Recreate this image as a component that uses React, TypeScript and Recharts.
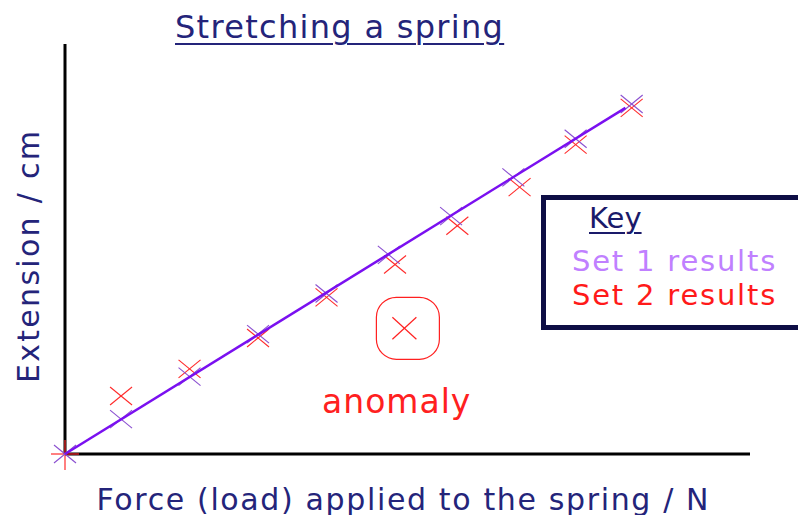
import React from "react";
import { ScatterChart, Scatter, XAxis, YAxis, Label } from "recharts";

// force (N) and extension (cm)
const set1Force = [0, 0.9, 2.0, 3.1, 4.2, 5.2, 6.2, 7.2, 8.2, 9.1];
const set1Ext = [0, 1.8, 4.0, 6.2, 8.3, 10.3, 12.3, 14.3, 16.3, 18.1];
const set2Force = [0, 0.9, 2.0, 3.1, 4.2, 5.3, 6.3, 7.3, 8.2, 9.1];
const set2Ext = [0, 3.0, 4.4, 6.0, 8.1, 9.8, 11.8, 13.8, 16.0, 17.9];
const anomalyForce = [5.45];
const anomalyExt = [6.5];
const fitForce = [0, 9.0];
const fitExt = [0, 17.9];

const zip = (xs: number[], ys: number[]) => xs.map((x, i) => ({ force: x, ext: ys[i] }));

const set1 = zip(set1Force, set1Ext);
const set2 = zip(set2Force, set2Ext);
const anomaly = zip(anomalyForce, anomalyExt);
const fit = zip(fitForce, fitExt);

const NAVY = "#24247a";
const FONT = "'DejaVu Sans', sans-serif";

const crossShape = (color: string, rx: number, ry: number, plusAtOrigin = false) => (props: any) => {
  const { cx, cy, index } = props;
  if (cx == null || cy == null) return <g />;
  if (plusAtOrigin && index === 0) {
    return (
      <g stroke={color} strokeWidth={1.2}>
        <line x1={cx - 14} y1={cy} x2={cx + 14} y2={cy} />
        <line x1={cx} y1={cy - 14} x2={cx} y2={cy + 16} />
      </g>
    );
  }
  return (
    <g stroke={color} strokeWidth={1.1}>
      <line x1={cx - rx} y1={cy - ry} x2={cx + rx} y2={cy + ry} />
      <line x1={cx - rx} y1={cy + ry} x2={cx + rx} y2={cy - ry} />
    </g>
  );
};

const AnomalyShape = (props: any) => {
  const { cx, cy } = props;
  if (cx == null || cy == null) return <g />;
  return (
    <g stroke="#ff2020" fill="none" strokeWidth={1.2}>
      <line x1={cx - 12} y1={cy - 11} x2={cx + 12} y2={cy + 11} />
      <line x1={cx - 12} y1={cy + 11} x2={cx + 12} y2={cy - 11} />
      <rect x={cx - 28} y={cy - 31} width={63} height={62} rx={20} />
    </g>
  );
};

const XLabel = (props: any) => {
  const { x, y, width } = props.viewBox;
  return (
    <text x={x + width / 2 - 5} y={y + 45} textAnchor="middle" dominantBaseline="central"
      fill={NAVY} fontSize={30} fontFamily={FONT} textLength={612} lengthAdjust="spacing">
      Force (load) applied to the spring / N
    </text>
  );
};

const YLabel = (props: any) => {
  const { y, height } = props.viewBox;
  const cx = 28;
  const cy = y + height / 2 + 8;
  return (
    <text x={cx} y={cy} transform={`rotate(-90, ${cx}, ${cy})`} textAnchor="middle" dominantBaseline="central"
      fill={NAVY} fontSize={30} fontFamily={FONT} textLength={252} lengthAdjust="spacing">
      Extension / cm
    </text>
  );
};

export default function App() {
  return (
    <div style={styles.page}>
      <ScatterChart width={798} height={515} margin={{ top: 44, right: 48, bottom: 60, left: 64 }}>
        <XAxis type="number" dataKey="force" domain={[0, 11]} height={1} tick={false} tickLine={false}
          axisLine={{ stroke: "#000", strokeWidth: 3 }}>
          <Label content={XLabel} />
        </XAxis>
        <YAxis type="number" dataKey="ext" domain={[0, 21.2]} width={1} tick={false} tickLine={false}
          axisLine={{ stroke: "#000", strokeWidth: 3 }}>
          <Label content={YLabel} />
        </YAxis>
        <Scatter name="Set 2 results" data={set2} shape={crossShape("#ff2a2a", 11, 9, true)} isAnimationActive={false} />
        <Scatter name="Set 1 results" data={set1} shape={crossShape("#8a4fd0", 11, 9)} isAnimationActive={false} />
        <Scatter data={fit} line={{ stroke: "#7a10f0", strokeWidth: 2.5 }} shape={() => <g />} isAnimationActive={false} />
        <Scatter name="anomaly" data={anomaly} shape={AnomalyShape} isAnimationActive={false} />
      </ScatterChart>

      <div style={styles.title}>Stretching a spring</div>
      <div style={styles.anomaly}>anomaly</div>
      <div style={styles.keyBox}>
        <div style={styles.keyTitle}>Key</div>
        <div style={{ ...styles.keyItem, top: 44, color: "#c080ff" }}>Set 1 results</div>
        <div style={{ ...styles.keyItem, top: 78, color: "#ff1a1a" }}>Set 2 results</div>
      </div>
    </div>
  );
}

const styles: Record<string, React.CSSProperties> = {
  page: { position: "absolute", left: 0, top: 0, width: 798, height: 515, overflow: "hidden", background: "#fff", fontFamily: FONT },
  title: { position: "absolute", left: 175, top: 8, fontSize: 32, letterSpacing: 1.3, color: NAVY, textDecoration: "underline", textUnderlineOffset: 5, textDecorationThickness: 1.5, whiteSpace: "nowrap" },
  anomaly: { position: "absolute", left: 322, top: 382, fontSize: 33, letterSpacing: 1, color: "#ff2020", whiteSpace: "nowrap" },
  keyBox: { position: "absolute", left: 541, top: 195, width: 280, height: 125, border: "5px solid #0e0e45", boxSizing: "content-box" },
  keyTitle: { position: "absolute", left: 43, top: 1, fontSize: 29, color: "#1a1a6a", textDecoration: "underline", textUnderlineOffset: 4, textDecorationThickness: 1.5 },
  keyItem: { position: "absolute", left: 26, fontSize: 29, letterSpacing: 1.8, whiteSpace: "nowrap" },
};
